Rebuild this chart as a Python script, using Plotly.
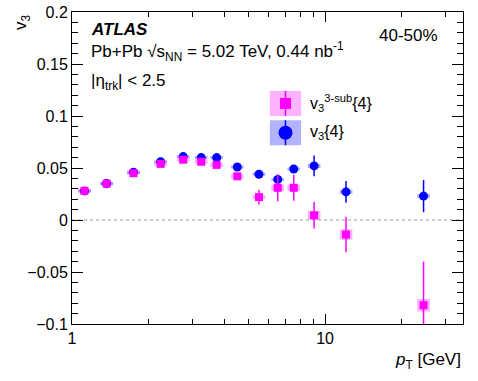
import plotly.graph_objects as go

# data
pt = [1.12, 1.37, 1.75, 2.24, 2.75, 3.24, 3.73, 4.5, 5.48, 6.5, 7.52, 9.05, 12.1, 24.5]

v3_4 = [0.028, 0.035, 0.046, 0.056, 0.061, 0.060, 0.060, 0.051, 0.044, 0.039, 0.049, 0.052, 0.027, 0.023]
v3_4_stat = [0.001, 0.001, 0.001, 0.001, 0.001, 0.001, 0.001, 0.0015, 0.002, 0.003, 0.002, 0.010, 0.0105, 0.0155]
v3_4_sys = [0.0015, 0.0015, 0.0015, 0.0015, 0.0015, 0.0015, 0.0015, 0.0015, 0.0015, 0.0015, 0.0015, 0.002, 0.002, 0.002]

v3_3sub = [0.028, 0.035, 0.045, 0.054, 0.058, 0.056, 0.053, 0.042, 0.022, 0.031, 0.031, 0.0045, -0.014, -0.082]
v3_3sub_stat = [0.001, 0.001, 0.001, 0.001, 0.001, 0.001, 0.0015, 0.002, 0.007, 0.013, 0.0125, 0.0127, 0.017, 0.042]
v3_3sub_sys = [0.0015, 0.0015, 0.0015, 0.002, 0.002, 0.002, 0.002, 0.002, 0.002, 0.003, 0.003, 0.0043, 0.005, 0.006]

FONT = "Liberation Sans, Arial, sans-serif"
PINK = "#ff00ff"
BLUE = "#0000ff"
BOXW = 1.06  # half width of the systematic boxes, as a factor in pT


def sys_boxes(x, y, s):
    bx, by = [], []
    for xi, yi, si in zip(x, y, s):
        bx += [xi / BOXW, xi * BOXW, xi * BOXW, xi / BOXW, xi / BOXW, None]
        by += [yi - si, yi - si, yi + si, yi + si, yi - si, None]
    return bx, by


fig = go.Figure()

# dashed line at zero
fig.add_shape(type="line", xref="paper", yref="y", x0=0, x1=1, y0=0, y1=0,
              line=dict(color="#999999", width=1, dash="3px,3px"), layer="below")

for y, s, col in [(v3_4, v3_4_sys, "rgba(0,0,255,0.3)"), (v3_3sub, v3_3sub_sys, "rgba(255,0,255,0.3)")]:
    bx, by = sys_boxes(pt, y, s)
    fig.add_trace(go.Scatter(x=bx, y=by, mode="lines", fill="toself", fillcolor=col,
                             line=dict(width=0), hoverinfo="skip", showlegend=False))

fig.add_trace(go.Scatter(x=pt, y=v3_4, mode="markers", name="v3{4}",
                         marker=dict(symbol="circle", size=9, color=BLUE),
                         error_y=dict(type="data", array=v3_4_stat, color=BLUE, thickness=1.5, width=0),
                         showlegend=False))
fig.add_trace(go.Scatter(x=pt, y=v3_3sub, mode="markers", name="v3 3-sub{4}",
                         marker=dict(symbol="square", size=8, color=PINK),
                         error_y=dict(type="data", array=v3_3sub_stat, color=PINK, thickness=1.5, width=0),
                         showlegend=False))

# hand made legend, ROOT style
leg_y = [0.667, 0.573]
leg_sym = ["square", "circle"]
leg_col = [PINK, BLUE]
leg_fill = ["rgba(255,0,255,0.3)", "rgba(0,0,255,0.3)"]
leg_txt = ["v<sub>3</sub><sup>3-sub</sup>{4}", "v<sub>3</sub>{4}"]
for yy, sym, col, fc, txt in zip(leg_y, leg_sym, leg_col, leg_fill, leg_txt):
    fig.add_shape(type="rect", xref="paper", yref="paper", x0=0.506, x1=0.586,
                  y0=yy, y1=yy + 0.080, fillcolor=fc, line=dict(width=0))
    fig.add_shape(type="line", xref="paper", yref="paper", x0=0.546, x1=0.546,
                  y0=yy, y1=yy + 0.080, line=dict(color=col, width=1.5))
    fig.add_trace(go.Scatter(x=[0.546], y=[yy + 0.040], xaxis="x2", yaxis="y2", mode="markers",
                             marker=dict(symbol=sym, size=11 if sym == "square" else 14, color=col),
                             hoverinfo="skip", showlegend=False))
    fig.add_annotation(x=0.604, y=yy + 0.040, xref="paper", yref="paper", text=txt, showarrow=False,
                       xanchor="left", yanchor="middle", font=dict(size=16, family=FONT, color="black"))

fig.add_annotation(x=0.044, y=0.944, xref="paper", yref="paper", text="<b><i>ATLAS</i></b>",
                   showarrow=False, xanchor="left", yanchor="middle", font=dict(size=17, family=FONT, color="black"))
fig.add_annotation(x=0.044, y=0.872, xref="paper", yref="paper",
                   text="Pb+Pb √s<sub>NN</sub> = 5.02 TeV, 0.44 nb<sup>-1</sup>",
                   showarrow=False, xanchor="left", yanchor="middle", font=dict(size=17, family=FONT, color="black"))
fig.add_annotation(x=0.044, y=0.776, xref="paper", yref="paper", text="|η<sub>trk</sub>| < 2.5",
                   showarrow=False, xanchor="left", yanchor="middle", font=dict(size=17, family=FONT, color="black"))
fig.add_annotation(x=0.94, y=0.926, xref="paper", yref="paper", text="40-50%",
                   showarrow=False, xanchor="right", yanchor="middle", font=dict(size=17, family=FONT, color="black"))

# axis titles in ROOT position
fig.add_annotation(x=-0.128, y=1.0, xref="paper", yref="paper", text="v<sub>3</sub>", textangle=-90,
                   showarrow=False, xanchor="center", yanchor="top", font=dict(size=17, family=FONT, color="black"))
fig.add_annotation(x=1.0, y=-0.12, xref="paper", yref="paper", text="<i>p</i><sub>T</sub> [GeV]",
                   showarrow=False, xanchor="right", yanchor="middle", font=dict(size=17, family=FONT, color="black"))

fig.update_layout(
    width=478, height=381,
    margin=dict(l=72, r=15, t=12, b=57),
    plot_bgcolor="white", paper_bgcolor="white",
    font=dict(family=FONT, size=16, color="black"),
    xaxis=dict(type="log", range=[0, 1.545], tickvals=[1, 10], ticktext=["1", "10"],
               ticks="inside", ticklen=10, tickwidth=1, tickcolor="black",
               showline=True, linecolor="black", linewidth=1, mirror="ticks",
               showgrid=False, zeroline=False, automargin=False,
               minor=dict(tickvals=[2, 3, 4, 5, 6, 7, 8, 9, 20, 30], ticks="inside", ticklen=5,
                          tickcolor="black", showgrid=False)),
    yaxis=dict(range=[-0.1, 0.2], tickvals=[-0.1, -0.05, 0, 0.05, 0.1, 0.15, 0.2],
               ticktext=["−0.1", "−0.05", "0", "0.05", "0.1", "0.15", "0.2"],
               ticks="inside", ticklen=11, tickwidth=1, tickcolor="black",
               showline=True, linecolor="black", linewidth=1, mirror="ticks",
               showgrid=False, zeroline=False, automargin=False,
               minor=dict(dtick=0.01, ticks="inside", ticklen=6, tickcolor="black", showgrid=False)),
    xaxis2=dict(domain=[0, 1], range=[0, 1], visible=False, anchor="y2", overlaying="x", automargin=False),
    yaxis2=dict(domain=[0, 1], range=[0, 1], visible=False, anchor="x2", overlaying="y", automargin=False),
)

fig.write_html("out.html", config={"displayModeBar": False},
               post_script="document.body.style.margin='0';")
